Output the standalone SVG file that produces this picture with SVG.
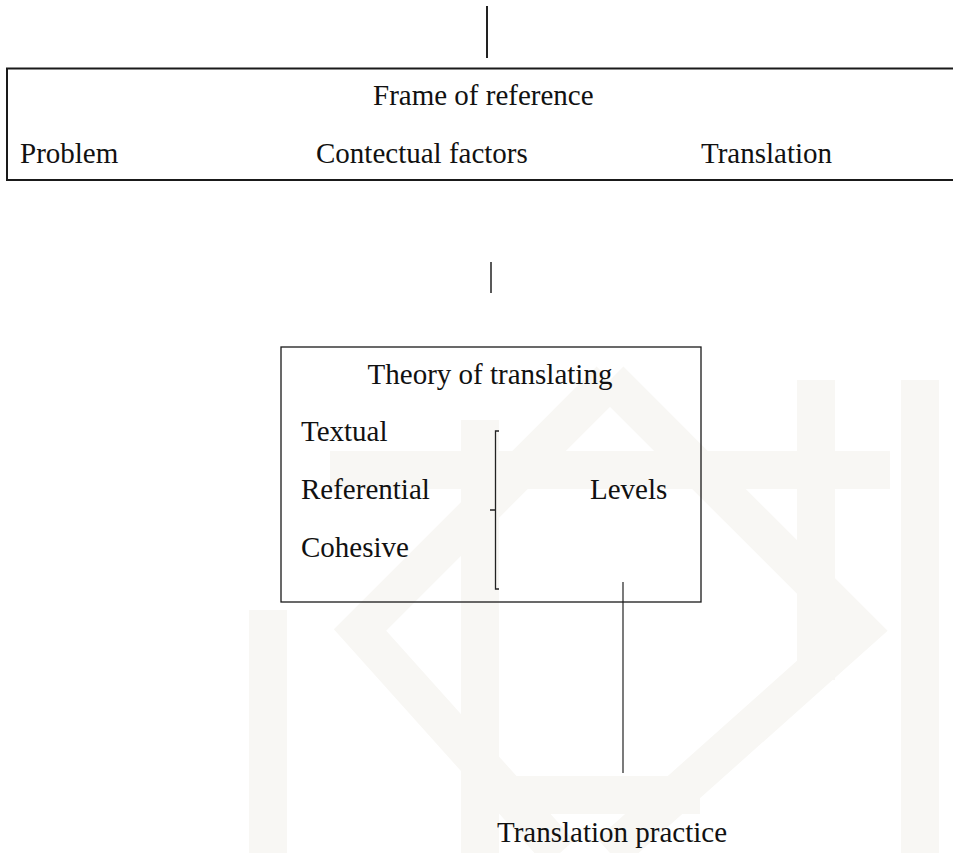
<svg xmlns="http://www.w3.org/2000/svg" width="953" height="853" viewBox="0 0 953 853">
  <style>
    text { font-family: "Liberation Serif", "Times New Roman", serif; font-size: 29px; fill: #111; }
    .box { fill: none; stroke: #1a1a1a; }
    .conn { stroke: #222; fill: none; }
    .wm { fill: none; stroke: #f8f7f4; stroke-width: 38; stroke-linejoin: miter; }
  </style>
  <rect x="0" y="0" width="953" height="853" fill="#ffffff"/>
  <g id="watermark">
    <path class="wm" d="M610 380 L860 630 L610 853 M610 380 L360 630 L560 853"/>
    <path class="wm" d="M268 610 L268 853 M816 380 L816 680 M920 380 L920 853 M480 420 L480 853"/>
    <path class="wm" d="M330 470 L890 470 M500 795 L700 795"/>
  </g>
  <g id="connectors">
    <line class="conn" x1="487" y1="6" x2="487" y2="58" stroke-width="2"/>
    <line class="conn" x1="491" y1="262" x2="491" y2="293" stroke-width="1.5"/>
    <line class="conn" x1="623" y1="582" x2="623" y2="773" stroke-width="1.2"/>
  </g>
  <g id="frame-of-reference">
    <rect class="box" x="7" y="68.5" width="960" height="111.5" stroke-width="2"/>
    <text x="373" y="105">Frame of reference</text>
    <text x="20" y="163">Problem</text>
    <text x="316" y="163">Contectual factors</text>
    <text x="701" y="163">Translation</text>
  </g>
  <g id="theory-of-translating">
    <rect class="box" x="281" y="347" width="420" height="255" stroke-width="1.3"/>
    <text x="490" y="384" text-anchor="middle">Theory of translating</text>
    <text x="301" y="441">Textual</text>
    <text x="301" y="499">Referential</text>
    <text x="301" y="557">Cohesive</text>
    <path class="conn" d="M499 431 L495.5 431 L495.5 589 L499 589 M490 510 L495.5 510" stroke-width="1.3"/>
    <text x="590" y="499">Levels</text>
  </g>
  <g id="translation-practice">
    <text x="497" y="842">Translation practice</text>
  </g>
</svg>
